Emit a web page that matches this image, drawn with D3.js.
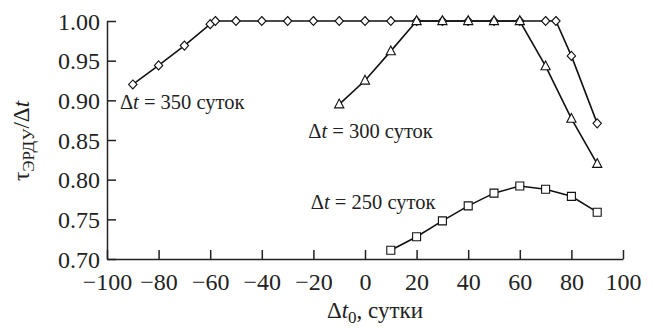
<!DOCTYPE html>
<html>
<head>
<meta charset="utf-8">
<script src="https://cdn.jsdelivr.net/npm/d3@7"></script>
<style>
  body { margin: 0; background: #fff; }
</style>
</head>
<body>
<svg id="chart"></svg>
<script>
// Chart size
const width = 657;
const height = 328;
const margin = { top: 21, right: 34, bottom: 69, left: 107 };
const serif = '"Liberation Serif"';

// Data: Δt = 350 суток (diamonds)
const x350 = [-90, -80, -70, -60, -58, -50, -40, -30, -20, -10, 0, 10, 20, 30, 40, 50, 60, 70, 74, 80, 90];
const y350 = [0.920, 0.944, 0.969, 0.996, 1.0, 1.0, 1.0, 1.0, 1.0, 1.0, 1.0, 1.0, 1.0, 1.0, 1.0, 1.0, 1.0, 1.0, 1.0, 0.956, 0.871];

// Δt = 300 суток (triangles)
const x300 = [-10, 0, 10, 20, 30, 40, 50, 60, 70, 80, 90];
const y300 = [0.895, 0.925, 0.962, 1.0, 1.0, 1.0, 1.0, 1.0, 0.943, 0.877, 0.820];

// Δt = 250 суток (squares)
const x250 = [10, 20, 30, 40, 50, 60, 70, 80, 90];
const y250 = [0.711, 0.728, 0.748, 0.767, 0.783, 0.792, 0.788, 0.779, 0.759];

const xTicks = [-100, -80, -60, -40, -20, 0, 20, 40, 60, 80, 100];
const yTicks = [0.70, 0.75, 0.80, 0.85, 0.90, 0.95, 1.00];

const svg = d3.select("#chart")
    .attr("width", width)
    .attr("height", height);

const x = d3.scaleLinear().domain([-100, 100]).range([margin.left, width - margin.right]);
const y = d3.scaleLinear().domain([0.70, 1.00]).range([height - margin.bottom, margin.top]);

// Axes with inward ticks
const xAxis = svg.append("g")
    .attr("transform", `translate(0,${y(0.70)})`)
    .call(d3.axisBottom(x).tickValues(xTicks).tickSize(-9).tickSizeOuter(0).tickPadding(14)
        .tickFormat(d => d < 0 ? "\u2212" + Math.abs(d) : d));

const yAxis = svg.append("g")
    .attr("transform", `translate(${x(-100)},0)`)
    .call(d3.axisLeft(y).tickValues(yTicks).tickSize(-9).tickSizeOuter(0).tickPadding(7)
        .tickFormat(d3.format(".2f")));

xAxis.attr("font-family", null);
yAxis.attr("font-family", null);
svg.selectAll(".domain, .tick line").attr("stroke", "#222").attr("stroke-width", 1.5);
svg.selectAll(".tick text")
    .style("font-family", serif)
    .style("font-size", "24px")
    .attr("fill", "#222");
yAxis.selectAll(".tick text").attr("dy", "0.34em");

// Lines
const line = d3.line().x(d => x(d[0])).y(d => y(d[1]));
const series = [
    { xs: x350, ys: y350, shape: "diamond" },
    { xs: x300, ys: y300, shape: "triangle" },
    { xs: x250, ys: y250, shape: "square" }
];

series.forEach(s => {
    s.pts = s.xs.map((v, i) => [v, s.ys[i]]);
    svg.append("path")
        .datum(s.pts)
        .attr("d", line)
        .attr("fill", "none")
        .attr("stroke", "#111")
        .attr("stroke-width", 1.6);
});

// Markers
function markerPath(shape) {
    if (shape === "diamond") return "M0,-4.5L4.2,0L0,4.5L-4.2,0Z";
    if (shape === "triangle") return "M0,-5.2L4.6,3.6L-4.6,3.6Z";
    return "M-4,-4L4,-4L4,4L-4,4Z";
}

series.forEach(s => {
    svg.append("g")
        .selectAll("path")
        .data(s.pts)
        .join("path")
        .attr("transform", d => `translate(${x(d[0])},${y(d[1])})`)
        .attr("d", markerPath(s.shape))
        .attr("fill", "#fff")
        .attr("stroke", "#111")
        .attr("stroke-width", 1.1);
});

// Series labels
const labels = [
    { text: "350", xv: -95, yv: 0.889 },
    { text: "300", xv: -22, yv: 0.853 },
    { text: "250", xv: -21, yv: 0.763 }
];
labels.forEach(l => {
    const t = svg.append("text")
        .attr("x", x(l.xv))
        .attr("y", y(l.yv))
        .style("font-family", serif)
        .style("font-size", "20.5px")
        .attr("fill", "#222");
    t.append("tspan").text("\u0394");
    t.append("tspan").style("font-style", "italic").text("t");
    t.append("tspan").text(` = ${l.text} суток`);
});

// X axis title
const xt = svg.append("text")
    .attr("x", 375)
    .attr("y", 318)
    .attr("text-anchor", "middle")
    .style("font-family", serif)
    .style("font-size", "23px")
    .attr("fill", "#222");
xt.append("tspan").text("\u0394");
xt.append("tspan").style("font-style", "italic").text("t");
xt.append("tspan").style("font-size", "17px").attr("dy", 5).text("0");
xt.append("tspan").attr("dy", -5).text(", сутки");

// Y axis title
const yt = svg.append("text")
    .attr("transform", "translate(29,141) rotate(-90)")
    .attr("text-anchor", "middle")
    .style("font-family", serif)
    .style("font-size", "23px")
    .attr("fill", "#222");
yt.append("tspan").text("\u03C4");
yt.append("tspan").style("font-size", "17px").attr("dy", 5).text("ЭРДУ");
yt.append("tspan").attr("dy", -5).text("/\u0394");
yt.append("tspan").style("font-style", "italic").text("t");
</script>
</body>
</html>
